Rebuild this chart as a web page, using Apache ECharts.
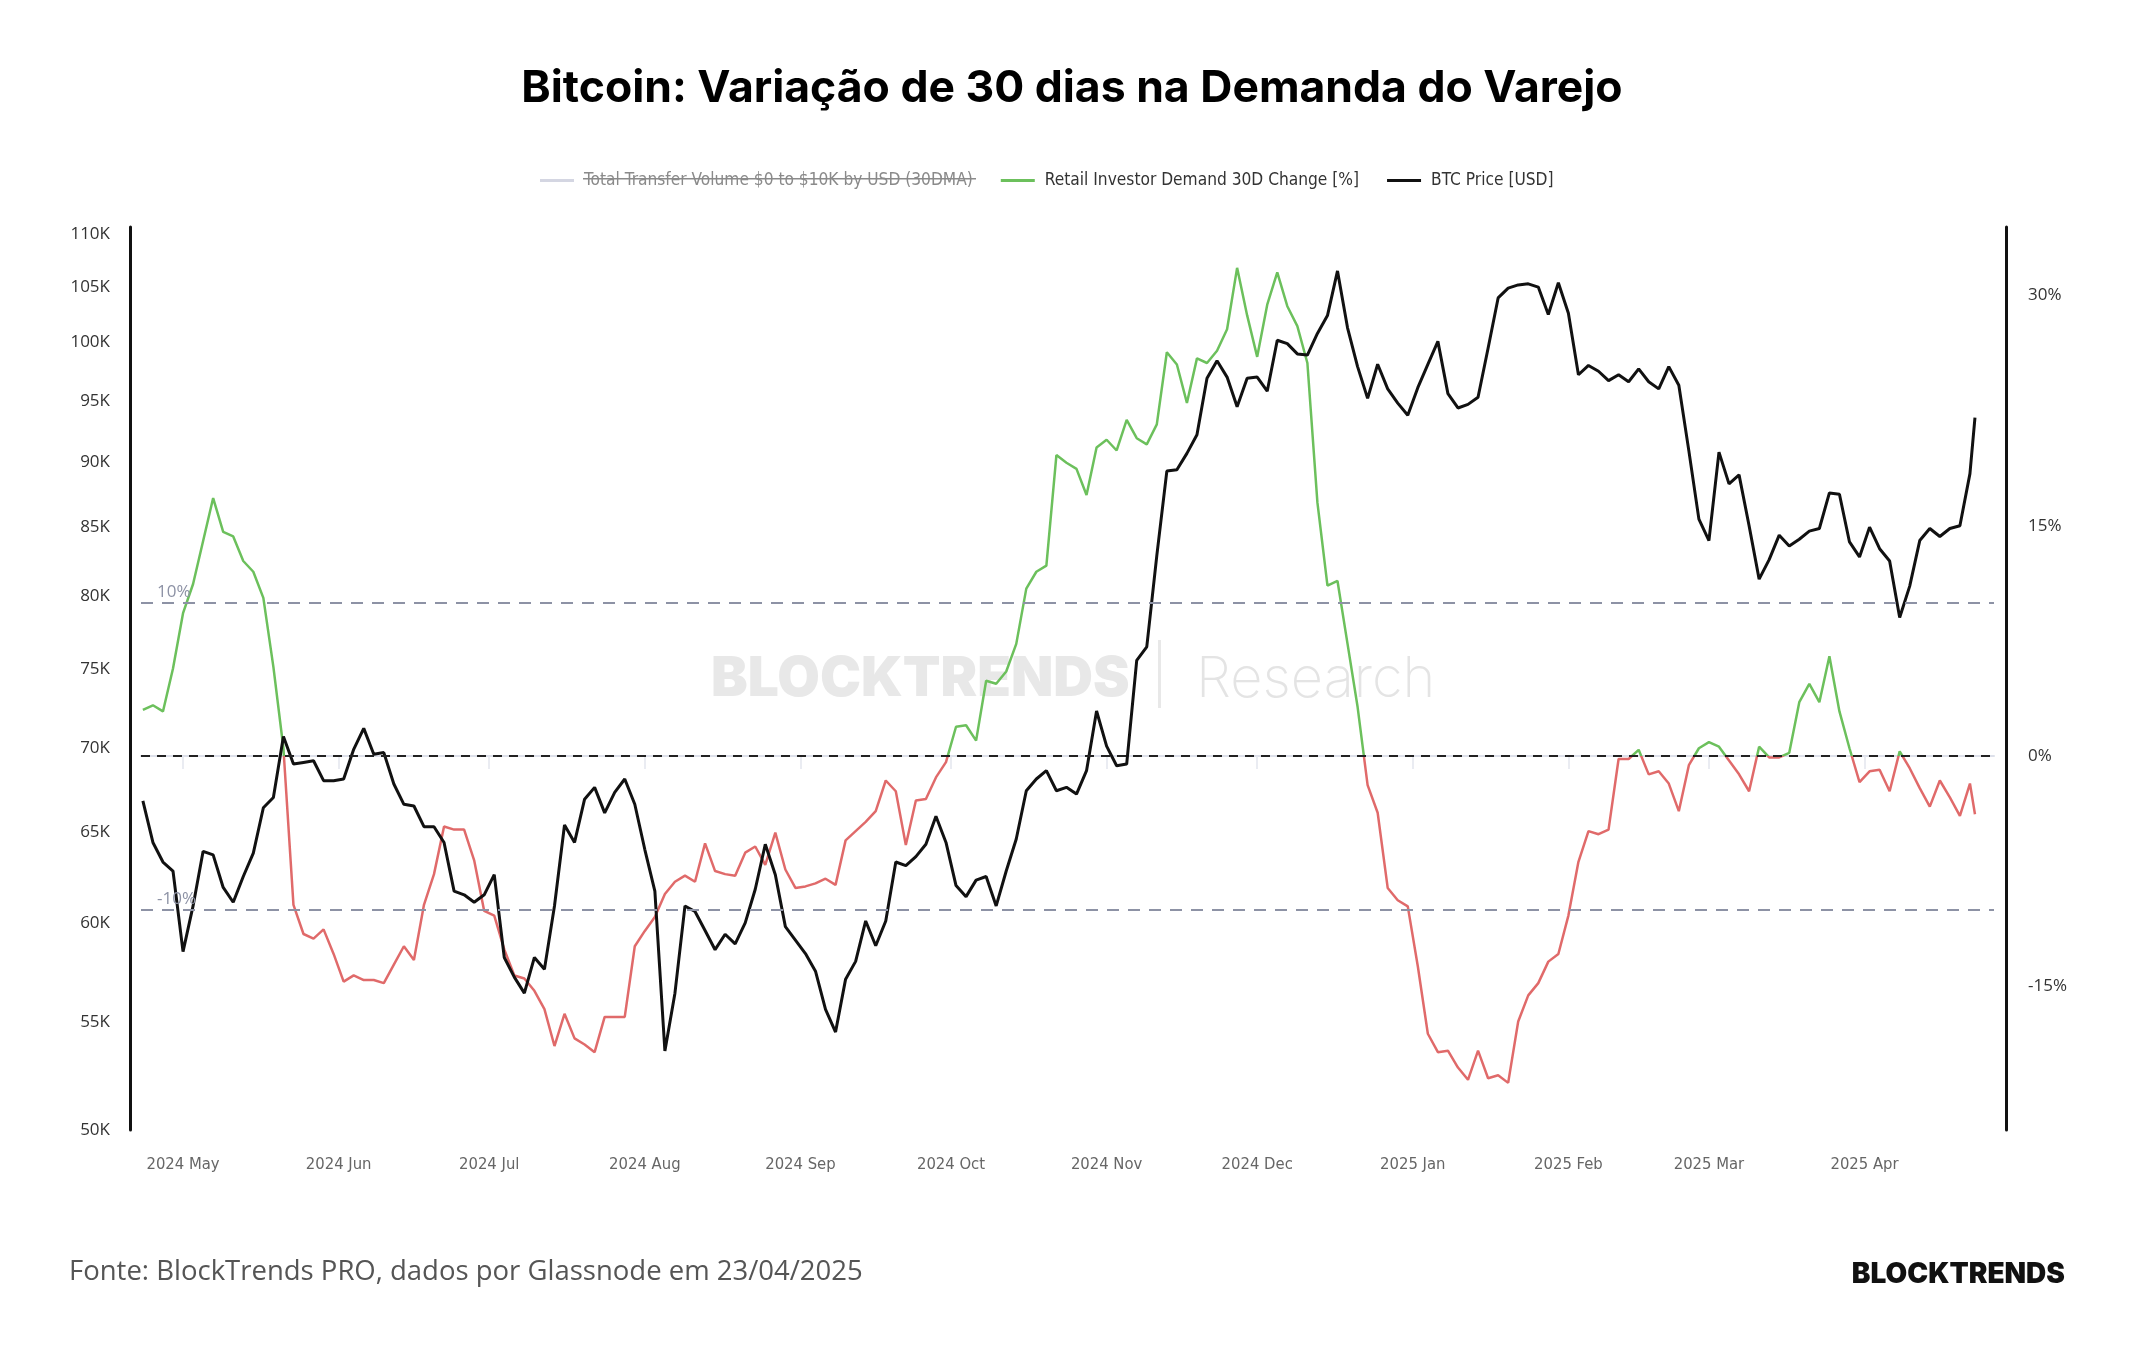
<!DOCTYPE html>
<html>
<head>
<meta charset="utf-8">
<title>Bitcoin: Variação de 30 dias na Demanda do Varejo</title>
<script src="https://cdn.jsdelivr.net/npm/echarts@6/dist/echarts.min.js"></script>
<style>
  html, body { margin: 0; padding: 0; background: #fff; }
  #chart { width: 2144px; height: 1350px; }
</style>
</head>
<body>
<div id="chart"></div>
<script>
// amostras a cada 2 dias, de 23/04/2024 até 23/04/2025 (último ponto)
const startDate = '2024-04-23';
const endDate = '2025-04-23';
const stepDays = 2;

// BTC Price [USD], em milhares
const btcPrice = [
  66.8, 64.4, 63.3, 62.8, 58.5, 60.9, 63.9, 63.7, 61.9, 61.1,
  62.5, 63.8, 66.4, 67.0, 70.7, 69.0, 69.1, 69.2, 68.0, 68.0,
  68.1, 69.9, 71.2, 69.6, 69.7, 67.8, 66.6, 66.5, 65.3, 65.3,
  64.4,
  61.7, 61.5, 61.1, 61.5, 62.6, 58.2, 57.2, 56.4, 58.2, 57.6,
  60.9, 65.4, 64.4, 66.9, 67.6, 66.1, 67.3, 68.1, 66.6, 64.0,
  61.7, 53.6, 56.4, 60.9, 60.6, 59.6, 58.6, 59.4, 58.9, 60.0,
  61.8,
  64.3, 62.6, 59.8, 59.1, 58.4, 57.5, 55.6, 54.5, 57.1, 58.0,
  60.1, 58.8, 60.1, 63.3, 63.1, 63.6, 64.3, 65.9, 64.4, 62.0,
  61.4, 62.3, 62.5, 60.9, 62.8, 64.6, 67.4, 68.1, 68.6, 67.4,
  67.6,
  67.2, 68.6, 72.3, 70.1, 68.9, 69.0, 75.6, 76.5, 82.9, 89.3,
  89.4, 90.7, 92.2, 96.9, 98.4, 97.0, 94.5, 96.9, 97.0, 95.8,
  100.2, 99.9, 99.0, 98.9, 100.8, 102.4, 106.5, 101.3, 97.9, 95.2,
  98.1,
  96.0, 94.8, 93.8, 96.1, 98.1, 100.1, 95.6, 94.4, 94.7, 95.3,
  99.5, 104.0, 104.9, 105.2, 105.3, 105.0, 102.5, 105.4, 102.6, 97.2,
  98.0, 97.5, 96.7, 97.2, 96.6, 97.7, 96.6, 96.0, 97.9, 96.3,
  90.9,
  85.6, 84.0, 90.8, 88.3, 89.0, 85.1, 81.2, 82.6, 84.4, 83.6,
  84.1, 84.7, 84.9, 87.6, 87.5, 83.9, 82.8, 85.0, 83.4, 82.5,
  78.5, 80.7, 84.0, 84.9, 84.3, 84.9, 85.1, 89.1,
  93.6
];

// Retail Investor Demand 30D Change [%]
const retailDemand = [
  3.0, 3.3, 2.9, 5.7, 9.3, 11.2, 14.0, 16.8, 14.6, 14.3,
  12.7, 12.0, 10.3, 5.8, 0.5, -9.7, -11.6, -11.9, -11.3, -12.9,
  -14.7, -14.3, -14.6, -14.6, -14.8, -13.6, -12.4, -13.3, -9.7, -7.7,
  -4.6,
  -4.8, -4.8, -6.8, -10.1, -10.4, -12.6, -14.3, -14.5, -15.3, -16.5,
  -18.9, -16.8, -18.4, -18.8, -19.3, -17.0, -17.0, -17.0, -12.4, -11.4,
  -10.5, -9.0, -8.2, -7.8, -8.2, -5.7, -7.5, -7.7, -7.8, -6.3,
  -5.9,
  -7.1, -5.0, -7.4, -8.6, -8.5, -8.3, -8.0, -8.4, -5.5, -4.9,
  -4.3, -3.6, -1.6, -2.3, -5.8, -2.9, -2.8, -1.4, -0.4, 1.9,
  2.0, 1.0, 4.9, 4.7, 5.5, 7.3, 10.9, 12.0, 12.4, 19.6,
  19.1,
  18.7, 17.0, 20.1, 20.6, 19.9, 21.9, 20.7, 20.3, 21.6, 26.3,
  25.5, 23.0, 25.9, 25.6, 26.4, 27.8, 31.8, 28.7, 26.0, 29.4,
  31.5, 29.3, 28.0, 25.6, 16.5, 11.1, 11.4, 7.3, 3.2, -1.9,
  -3.7,
  -8.6, -9.4, -9.8, -13.7, -18.1, -19.3, -19.2, -20.3, -21.1, -19.2,
  -21.0, -20.8, -21.3, -17.3, -15.6, -14.8, -13.4, -12.9, -10.4, -6.9,
  -4.9, -5.1, -4.8, -0.2, -0.2, 0.4, -1.2, -1.0, -1.8, -3.6,
  -0.6,
  0.5, 0.9, 0.6, -0.3, -1.2, -2.3, 0.6, -0.1, -0.1, 0.2,
  3.5, 4.7, 3.5, 6.5, 2.9, 0.5, -1.7, -1.0, -0.9, -2.3,
  0.3, -0.8, -2.1, -3.3, -1.6, -2.7, -3.9, -1.8,
  -3.8
];

const monthTicks = [
  '2024-05-01', '2024-06-01', '2024-07-01', '2024-08-01', '2024-09-01', '2024-10-01',
  '2024-11-01', '2024-12-01', '2025-01-01', '2025-02-01', '2025-03-01', '2025-04-01'
];
const monthNames = ['Jan', 'Feb', 'Mar', 'Apr', 'May', 'Jun', 'Jul', 'Aug', 'Sep', 'Oct', 'Nov', 'Dec'];
const priceTicks = [50000, 55000, 60000, 65000, 70000, 75000, 80000, 85000, 90000, 95000, 100000, 105000, 110000];
const pctTicks = [-15, 0, 15, 30];

const GREEN = '#6cc05c';
const RED = '#e06a6a';
const DAY = 86400000;

const toTime = s => Date.parse(s + 'T00:00:00Z');

function buildDates() {
  const out = [];
  const t0 = toTime(startDate);
  for (let i = 0; i < btcPrice.length - 1; i++) {
    out.push(t0 + i * stepDays * DAY);
  }
  out.push(toTime(endDate));
  return out;
}
const dates = buildDates();

// eixo de preço em escala log: os valores vão em log10 para um eixo 'value'
const log10 = v => Math.log10(v);

var chart = echarts.init(document.getElementById('chart'));

chart.setOption({
  backgroundColor: '#fff',
  animation: false,
  title: [
    {
      text: 'Bitcoin: Variação de 30 dias na Demanda do Varejo',
      left: 'center',
      top: 61,
      textStyle: { fontFamily: 'Inter', fontWeight: 'bold', fontSize: 44.5, color: '#000' }
    },
    {
      text: 'Fonte: BlockTrends PRO, dados por Glassnode em 23/04/2025',
      left: 64,
      top: 1253,
      textStyle: { fontFamily: 'Open Sans', fontWeight: 'normal', fontSize: 27.5, color: '#555' }
    },
    {
      text: 'BLOCKTRENDS',
      right: 74,
      top: 1256,
      textStyle: { fontFamily: 'Inter', fontWeight: 900, fontSize: 28, color: '#111' }
    }
  ],
  legend: {
    top: 167,
    left: 535,
    icon: 'rect',
    itemWidth: 34,
    itemHeight: 3,
    itemGap: 28,
    textStyle: { fontFamily: 'DejaVu Sans Condensed', fontSize: 17.2, color: '#333', padding: [0, 0, 0, 5] },
    data: [
      { name: 'Total Transfer Volume $0 to $10K by USD (30DMA)', textStyle: { color: '#8a8a8a' } },
      { name: 'Retail Investor Demand 30D Change [%]', itemStyle: { color: GREEN } },
      { name: 'BTC Price [USD]', itemStyle: { color: '#111' } }
    ]
  },
  graphic: [
    // marca d'água
    {
      type: 'text', left: 711, top: 652, z: 0, silent: true,
      style: { text: 'BLOCKTRENDS', fontFamily: 'Inter', fontWeight: 900, fontSize: 55, fill: '#e8e8e8' }
    },
    {
      type: 'rect', left: 1158, top: 640, z: 0, silent: true,
      shape: { width: 3, height: 68 }, style: { fill: '#e8e8e8' }
    },
    {
      type: 'text', left: 1196, top: 652, z: 0, silent: true,
      style: { text: 'Research', fontFamily: 'Inter', fontWeight: 200, fontSize: 56, fill: '#e4e4e4' }
    },
    // item da legenda riscado
    {
      type: 'rect', left: 583, top: 178, z: 10, silent: true,
      shape: { width: 393, height: 1.5 }, style: { fill: '#8a8a8a' }
    }
  ],
  visualMap: {
    show: false,
    type: 'piecewise',
    seriesIndex: 2,
    dimension: 1,
    pieces: [
      { gte: -60, lte: 0, color: RED },
      { gt: 0, lte: 60, color: GREEN }
    ]
  },
  grid: { left: 141, right: 150, top: 227, bottom: 220 },
  xAxis: {
    type: 'value',
    min: toTime('2024-04-22') + 15 * 3600000,
    max: toTime('2025-04-26') + 19 * 3600000,
    axisLine: { show: true, lineStyle: { color: '#dde0ea', width: 2 } },
    axisTick: { show: true, customValues: monthTicks.map(toTime), length: 13, lineStyle: { color: '#e4e6ee', width: 1.5 } },
    axisLabel: {
      customValues: monthTicks.map(toTime),
      margin: 26,
      fontFamily: 'DejaVu Sans Condensed',
      fontSize: 16.5,
      color: '#666',
      formatter: function (v) {
        const d = new Date(v);
        return d.getUTCFullYear() + ' ' + monthNames[d.getUTCMonth()];
      }
    },
    splitLine: { show: false }
  },
  yAxis: [
    {
      type: 'value',
      position: 'left',
      offset: 11,
      min: log10(50000),
      max: log10(110700),
      axisLine: { show: true, lineStyle: { color: '#111', width: 3 } },
      axisTick: { show: false },
      splitLine: { show: false },
      axisLabel: {
        customValues: priceTicks.map(log10),
        margin: 20,
        fontFamily: 'Open Sans',
        fontSize: 17,
        color: '#333',
        formatter: v => Math.round(Math.pow(10, v) / 1000) + 'K'
      }
    },
    {
      type: 'value',
      position: 'right',
      offset: 12,
      min: -24.37,
      max: 34.46,
      axisLine: { show: true, lineStyle: { color: '#111', width: 3 } },
      axisTick: { show: false },
      splitLine: { show: false },
      axisLabel: {
        customValues: pctTicks,
        margin: 22,
        fontFamily: 'Open Sans',
        fontSize: 17,
        color: '#333',
        formatter: v => v + '%'
      }
    }
  ],
  series: [
    {
      name: 'Total Transfer Volume $0 to $10K by USD (30DMA)',
      type: 'line',
      yAxisIndex: 1,
      data: [],
      color: '#d4d6e2'
    },
    {
      name: 'ref',
      type: 'line',
      yAxisIndex: 1,
      data: [],
      z: 1,
      markLine: {
        silent: true,
        symbol: 'none',
        data: [
          {
            yAxis: 10,
            lineStyle: { color: '#8d92a5', type: [12, 9], width: 2 },
            label: { show: true, formatter: '10%', position: 'insideStartTop', distance: [16, 2], color: '#8d92a5', fontFamily: 'Open Sans', fontSize: 17 }
          },
          {
            yAxis: -10,
            lineStyle: { color: '#8d92a5', type: [12, 9], width: 2 },
            label: { show: true, formatter: '-10%', position: 'insideStartTop', distance: [16, 2], color: '#8d92a5', fontFamily: 'Open Sans', fontSize: 17 }
          },
          {
            yAxis: 0,
            lineStyle: { color: '#222', type: [9, 7], width: 2 },
            label: { show: false }
          }
        ]
      }
    },
    {
      name: 'Retail Investor Demand 30D Change [%]',
      type: 'line',
      yAxisIndex: 1,
      color: GREEN,
      symbol: 'none',
      z: 3,
      lineStyle: { width: 2.5 },
      data: dates.map((d, i) => [d, retailDemand[i]])
    },
    {
      name: 'BTC Price [USD]',
      type: 'line',
      yAxisIndex: 0,
      color: '#111',
      symbol: 'none',
      z: 4,
      lineStyle: { width: 3 },
      data: dates.map((d, i) => [d, log10(btcPrice[i] * 1000)])
    }
  ]
});
</script>
</body>
</html>
